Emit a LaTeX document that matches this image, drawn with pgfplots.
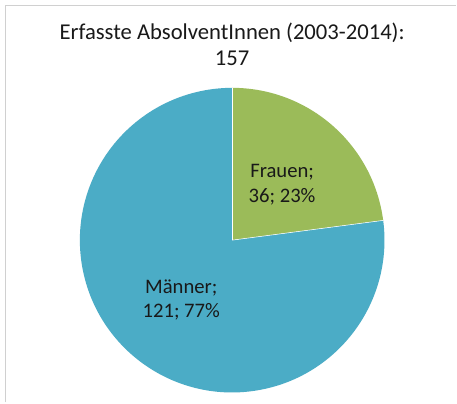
\documentclass[border=0pt]{standalone}
\usepackage{pgfplots}
\usepackage{pgfplotstable}
\pgfplotsset{compat=1.18}
\usepackage{fontspec}
\setmainfont{Carlito}
\definecolor{cgreen}{HTML}{9BBB59}
\definecolor{cblue}{HTML}{4BACC6}
\definecolor{cframe}{HTML}{D0D0D0}
\pgfplotstableread{
label value
Frauen 36
Maenner 121
}\piedata
\begin{document}
\begin{tikzpicture}
\pgfplotstablegetelem{0}{value}\of\piedata \let\vF\pgfplotsretval
\pgfplotstablegetelem{1}{value}\of\piedata \let\vM\pgfplotsretval
\pgfmathsetmacro{\total}{\vF+\vM}
\pgfmathsetmacro{\aF}{360*\vF/\total}
\begin{axis}[
  x=0.75pt, y=0.75pt,
  xmin=0, xmax=457, ymin=0, ymax=403,
  hide axis, clip=false,
]
\path[fill=white] (axis cs:0,0) rectangle (axis cs:457,403);
\draw[cframe, line width=1pt] (axis cs:5.5,0) -- (axis cs:5.5,397.5) -- (axis cs:457,397.5);
% Frauen wedge (clockwise from 12 o'clock)
\fill[cgreen] (axis cs:232.5,162.5) -- ++(90:114.4pt) arc[start angle=90, end angle=90-\aF, radius=114.4pt] -- cycle;
% Maenner wedge
\fill[cblue] (axis cs:232.5,162.5) -- ++(90-\aF:114.4pt) arc[start angle=90-\aF, end angle=-270, radius=114.4pt] -- cycle;
\draw[white, line width=0.4pt] (axis cs:232.5,162.5) -- ++(90:114.4pt);
\draw[white, line width=0.4pt] (axis cs:232.5,162.5) -- ++(90-\aF:114.4pt);
\node[anchor=base, font=\fontsize{17}{20}\selectfont, text=black!90] at (axis cs:232.5,363.5) {Erfasste AbsolventInnen (2003-2014):};
\node[anchor=base, font=\fontsize{17}{20}\selectfont, text=black!90] at (axis cs:232.5,337.5) {157};
\node[anchor=base, font=\fontsize{15.5}{19}\selectfont, text=black!90] at (axis cs:282.5,225.5) {Frauen;};
\node[anchor=base, font=\fontsize{15.5}{19}\selectfont, text=black!90] at (axis cs:282.5,200.5) {36; 23\%};
\node[anchor=base, font=\fontsize{15.5}{19}\selectfont, text=black!90] at (axis cs:181.5,109) {Männer;};
\node[anchor=base, font=\fontsize{15.5}{19}\selectfont, text=black!90] at (axis cs:181.5,85) {121; 77\%};
\end{axis}
\end{tikzpicture}
\end{document}
